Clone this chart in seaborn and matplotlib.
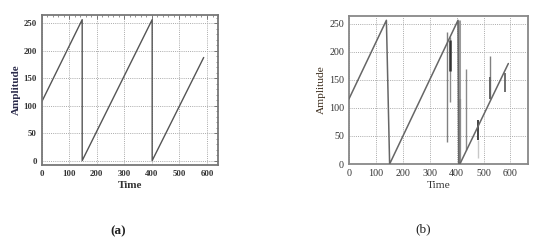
import matplotlib
matplotlib.use("Agg")
import matplotlib.pyplot as plt
import seaborn as sns
import pandas as pd
from matplotlib.ticker import MultipleLocator

sns.set_theme(style="white")
plt.rcParams['font.family'] = ['Liberation Serif', 'DejaVu Serif']

# ---- data (a) ----
a_time = [0, 147, 147, 401, 401, 588]
a_amp = [107, 257, 0, 257, 0, 188]

# ---- data (b) ----
b_time = [0, 139, 151, 405, 408, 412, 592]
b_amp = [116, 256, 0, 256, 0, 0, 179]

# spikes in (b): x, ymin, ymax
spike_x = [365, 377, 409, 413, 434, 481, 524, 578]
spike_lo = [39, 111, 0, 0, 25, 43, 116, 129]
spike_hi = [236, 226, 256, 116, 170, 78, 192, 163]
spike_col = ['#808080', '#8a8a8a', '#9a9a9a', '#8a8a8a', '#8a8a8a', '#444444', '#808080', '#555555']
spike_lw = [1.0, 1.0, 2.2, 1.6, 1.0, 1.4, 1.0, 1.2]
# darker / lighter overlays in (b)
over_x = [377, 481, 524]
over_lo = [165, 11, 116]
over_hi = [220, 43, 155]
over_col = ['#333333', '#c8c8c8', '#666666']
over_lw = [1.8, 1.0, 1.4]

xticks = [0, 100, 200, 300, 400, 500, 600]
yticks = [0, 50, 100, 150, 200, 250]

fig = plt.figure(figsize=(5.5, 2.43), dpi=100)
fig.patch.set_facecolor('white')

axa = fig.add_axes([0.0758, 0.321, 0.3206, 0.6185])
axb = fig.add_axes([0.6345, 0.325, 0.325, 0.61])

da = pd.DataFrame({'Time': a_time, 'Amplitude': a_amp})
db = pd.DataFrame({'Time': b_time, 'Amplitude': b_amp})

sns.lineplot(data=da, x='Time', y='Amplitude', sort=False, estimator=None,
             color='#555555', linewidth=1.0, ax=axa)
axb.vlines(spike_x, spike_lo, spike_hi, colors=spike_col, linewidths=spike_lw, zorder=2)
axb.vlines(over_x, over_lo, over_hi, colors=over_col, linewidths=over_lw, zorder=3)
sns.lineplot(data=db, x='Time', y='Amplitude', sort=False, estimator=None,
             color='#666666', linewidth=1.1, ax=axb, zorder=4)

# panel (a)
axa.set_xlim(0, 640)
axa.set_ylim(-8, 266)
axa.set_xticks(xticks)
axa.set_yticks(yticks)
axa.xaxis.set_minor_locator(MultipleLocator(20))
axa.yaxis.set_minor_locator(MultipleLocator(10))
axa.tick_params(which='both', direction='in', top=True, right=True, colors='#666666',
                labelcolor='#333333', labelsize=6.3, pad=3.5)
axa.tick_params(which='major', length=3, width=0.6)
axa.tick_params(which='minor', length=1.5, width=0.5)
for lab in axa.get_xticklabels() + axa.get_yticklabels():
    lab.set_fontweight('bold')
axa.grid(True, which='major', color='#aaaaaa', linestyle=(0, (1, 1.2)), linewidth=0.7)
for s in axa.spines.values():
    s.set_color('#777777')
    s.set_linewidth(1.3)
axa.set_xlabel('Time', fontsize=8, fontweight='bold', color='#333333', labelpad=2)
axa.set_ylabel('Amplitude', fontsize=8, fontweight='bold', color='#2a2a4a', labelpad=2)

# panel (b)
axb.set_xlim(0, 664)
axb.set_ylim(0, 264)
axb.set_xticks(xticks)
axb.set_yticks(yticks)
axb.yaxis.set_minor_locator(MultipleLocator(10))
axb.tick_params(which='both', direction='in', colors='#777777',
                labelcolor='#333333', labelsize=7.2, pad=3.5)
axb.tick_params(which='major', length=2.5, width=0.6)
axb.tick_params(which='minor', length=1.5, width=0.5)
axb.grid(True, which='major', color='#aaaaaa', linestyle=(0, (1, 1.2)), linewidth=0.7)
for s in axb.spines.values():
    s.set_color('#888888')
    s.set_linewidth(1.3)
axb.set_xlabel('Time', fontsize=8.2, color='#333333', labelpad=2)
axb.set_ylabel('Amplitude', fontsize=8.2, color='#3a2a1a', labelpad=2)

fig.text(0.215, 0.05, '(a)', fontsize=9.5, fontweight='bold', ha='center', va='center', color='#222222')
fig.text(0.769, 0.058, '(b)', fontsize=9.5, ha='center', va='center', color='#222222')

fig.savefig('out.png', dpi=100, facecolor='white')
